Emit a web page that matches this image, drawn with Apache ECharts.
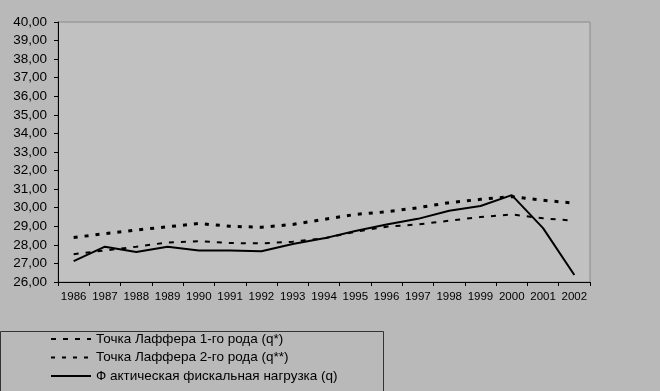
<!DOCTYPE html>
<html><head><meta charset="utf-8">
<script src="https://cdn.jsdelivr.net/npm/echarts@6/dist/echarts.min.js"></script>
<style>
html,body{margin:0;padding:0;background:#b9b9b9;}
#c{width:660px;height:391px;box-sizing:border-box;}
#wrap{position:relative;width:660px;height:391px;box-sizing:border-box;border:1px solid #000;}
</style></head>
<body>
<div id="wrap"><div id="c" style="position:absolute;left:-1px;top:-1px;"></div></div>
<script>
var years = ['1986','1987','1988','1989','1990','1991','1992','1993','1994','1995','1996','1997','1998','1999','2000','2001','2002'];
var nameQ1 = 'Точка Лаффера 1-го рода (q*)';
var nameQ2 = 'Точка Лаффера 2-го рода (q**)';
var nameQ = 'Ф актическая фискальная нагрузка (q)';
var q1 = [27.5, 27.7, 27.9, 28.13, 28.2, 28.1, 28.08, 28.17, 28.35, 28.7, 28.98, 29.1, 29.3, 29.5, 29.64, 29.43, 29.3];
var q2 = [28.4, 28.6, 28.8, 28.97, 29.15, 29.0, 28.95, 29.1, 29.37, 29.64, 29.78, 30.0, 30.27, 30.45, 30.6, 30.4, 30.25];
var q = [27.12, 27.9, 27.62, 27.9, 27.7, 27.7, 27.66, 28.05, 28.35, 28.75, 29.1, 29.4, 29.84, 30.09, 30.68, 28.9, 26.38];
var yMin = 26, yMax = 40, yStep = 1;

var chart = echarts.init(document.getElementById('c'));
var font = 'Liberation Sans, Arial, sans-serif';
chart.setOption({
  backgroundColor: '#b9b9b9',
  animation: false,
  textStyle: {fontFamily: font},
  grid: {left: 58, right: 70, top: 22, bottom: 109, show: true, backgroundColor: '#c1c1c1', borderColor: '#8a8a8a', borderWidth: 1},
  xAxis: {
    type: 'category', data: years, boundaryGap: true,
    axisLine: {lineStyle: {color: '#000', width: 1}},
    axisTick: {show: true, length: 4, lineStyle: {color: '#000'}},
    axisLabel: {color: '#000', fontSize: 11.5, margin: 9, fontFamily: 'Liberation Sans Narrow, Arial Narrow, sans-serif', interval: 0},
    splitLine: {show: false}
  },
  yAxis: {
    type: 'value', min: yMin, max: yMax, interval: yStep,
    axisLine: {show: true, lineStyle: {color: '#000', width: 1}},
    axisTick: {show: true, length: 4, lineStyle: {color: '#000'}},
    axisLabel: {color: '#000', fontSize: 13.5, margin: 11, fontFamily: font,
      formatter: function(v){ return v.toFixed(2).replace('.', ','); }},
    splitLine: {show: false}
  },
  legend: {
    orient: 'vertical', left: 50, top: 332, padding: 0, itemWidth: 40, itemHeight: 14, itemGap: 4.5,
    itemStyle: {opacity: 0},
    textStyle: {color: '#000', fontSize: 13.5, fontFamily: font},
    data: [nameQ1, nameQ2, nameQ]
  },
  graphic: [{
    type: 'rect', left: 0, top: 331, silent: true, z: -1,
    shape: {width: 383, height: 60},
    style: {fill: '#b9b9b9', stroke: '#333', lineWidth: 1}
  }],
  series: [
    {name: nameQ1, type: 'line', data: q1, symbol: 'none', lineStyle: {color: '#000', width: 2, type: [5, 7]}, itemStyle: {color: '#000'}},
    {name: nameQ2, type: 'line', data: q2, symbol: 'none', lineStyle: {color: '#000', width: 3, type: [4, 7]}, itemStyle: {color: '#000'}},
    {name: nameQ, type: 'line', data: q, symbol: 'none', lineStyle: {color: '#000', width: 2, type: 'solid'}, itemStyle: {color: '#000'}}
  ]
});
</script>
</body></html>
